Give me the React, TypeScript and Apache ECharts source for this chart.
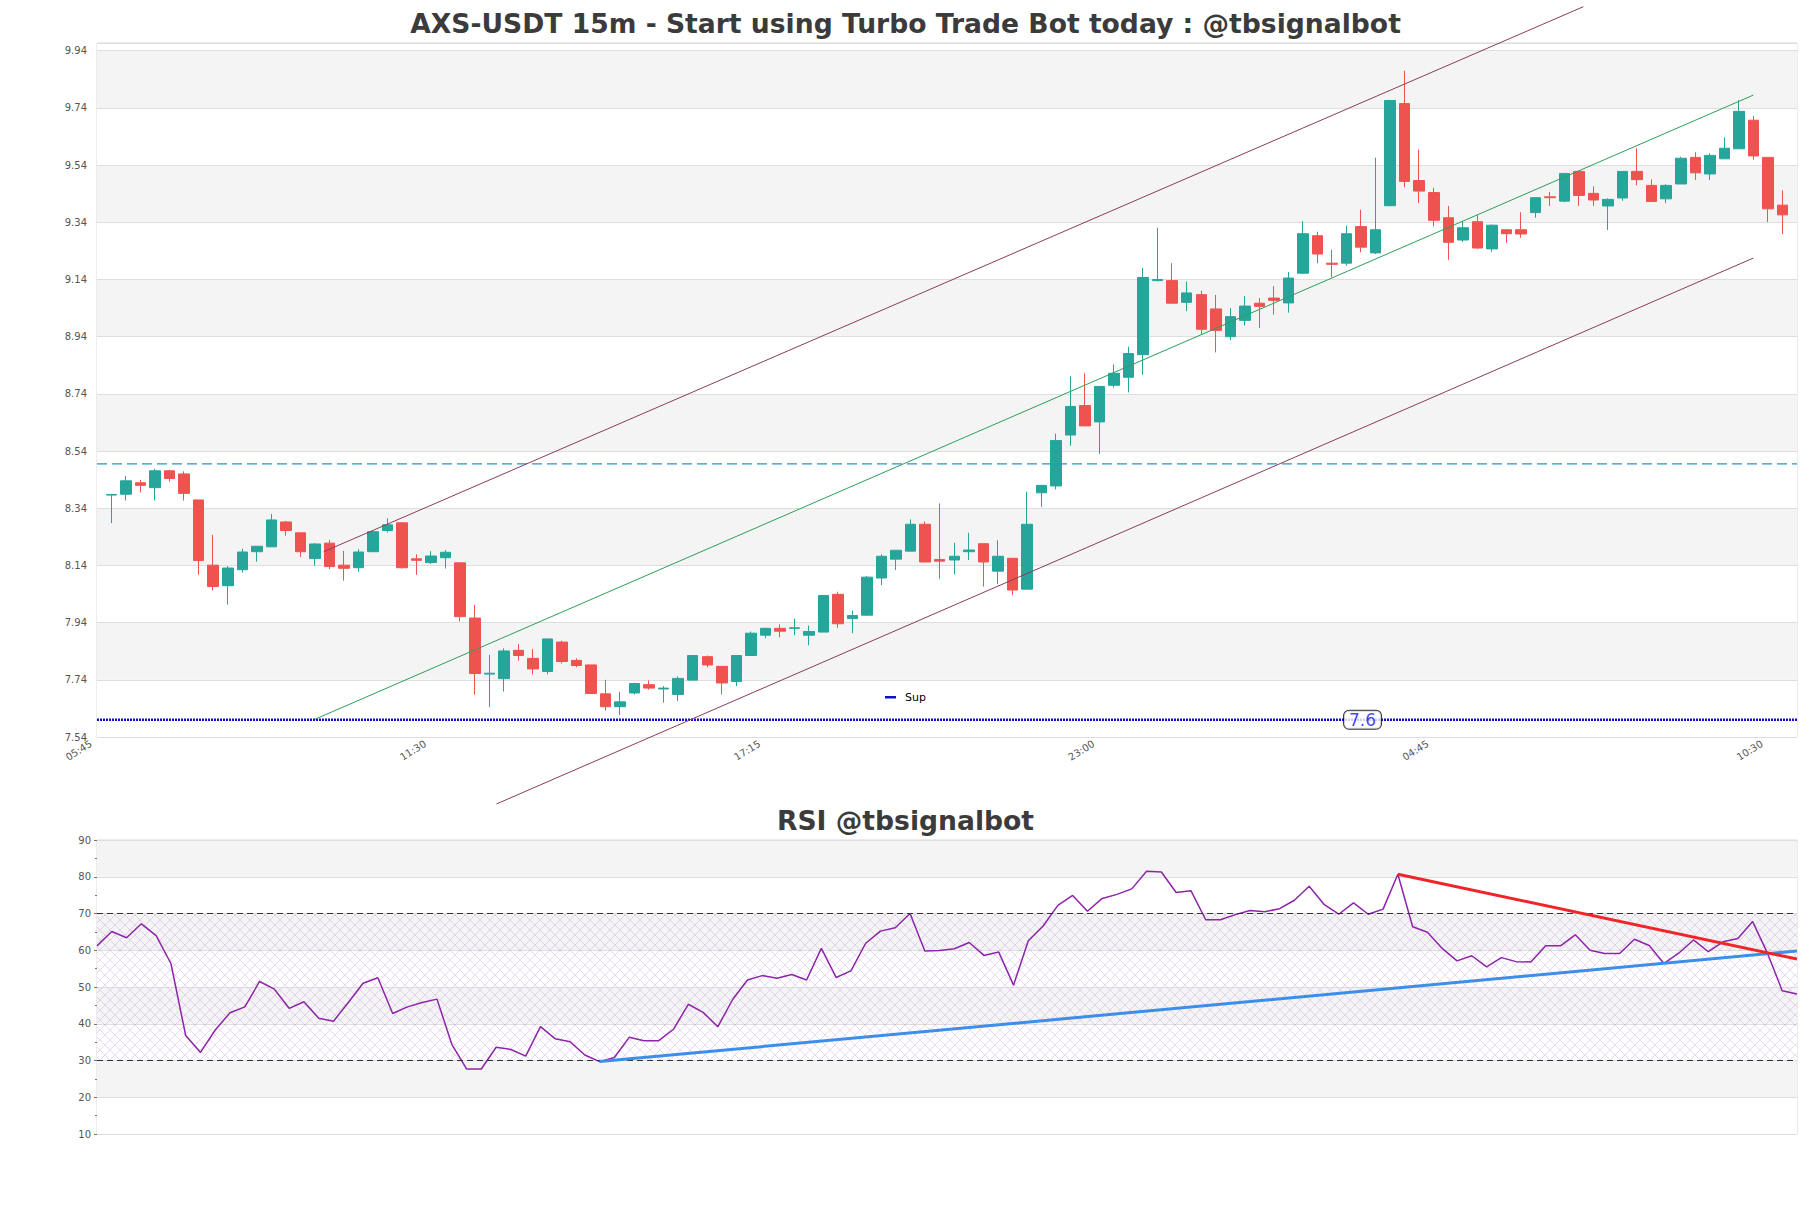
import React, { useEffect, useRef } from "react";
import * as echarts from "echarts";

// ---- Price candles (15m), one per period starting 06:00 ----
const opens = [
  8.386, 8.389, 8.429, 8.412, 8.471, 8.460, 8.369, 8.141, 8.069, 8.125,
  8.188, 8.205, 8.292, 8.254, 8.164, 8.218, 8.141, 8.132, 8.188, 8.262,
  8.289, 8.163, 8.150, 8.167, 8.149, 7.956, 7.760, 7.744, 7.843, 7.815,
  7.769, 7.872, 7.808, 7.792, 7.691, 7.646, 7.694, 7.723, 7.708, 7.689,
  7.739, 7.821, 7.787, 7.734, 7.825, 7.896, 7.920, 7.920, 7.896, 7.907,
  8.039, 7.954, 7.966, 8.096, 8.162, 8.190, 8.284, 8.161, 8.159, 8.188,
  8.216, 8.120, 8.165, 8.057, 8.394, 8.418, 8.596, 8.699, 8.642, 8.770,
  8.798, 8.877, 9.136, 9.136, 9.060, 9.087, 9.037, 8.940, 8.997, 9.057,
  9.075, 9.058, 9.162, 9.293, 9.197, 9.197, 9.325, 9.233, 9.398, 9.755,
  9.486, 9.444, 9.356, 9.278, 9.342, 9.247, 9.314, 9.314, 9.374, 9.429,
  9.414, 9.518, 9.441, 9.397, 9.425, 9.518, 9.469, 9.422, 9.474, 9.567,
  9.509, 9.562, 9.597, 9.697, 9.567, 9.400,
];
const closes = [
  8.388, 8.436, 8.420, 8.471, 8.444, 8.392, 8.157, 8.066, 8.131, 8.187,
  8.207, 8.299, 8.262, 8.188, 8.215, 8.136, 8.130, 8.187, 8.258, 8.282,
  8.132, 8.158, 8.173, 8.186, 7.961, 7.762, 7.763, 7.841, 7.825, 7.778,
  7.883, 7.804, 7.790, 7.692, 7.646, 7.663, 7.727, 7.711, 7.711, 7.745,
  7.825, 7.792, 7.729, 7.825, 7.903, 7.920, 7.910, 7.922, 7.909, 8.035,
  7.936, 7.965, 8.099, 8.172, 8.193, 8.284, 8.152, 8.155, 8.172, 8.194,
  8.152, 8.172, 8.054, 8.284, 8.420, 8.577, 8.696, 8.628, 8.766, 8.812,
  8.881, 9.147, 9.140, 9.057, 9.093, 8.966, 8.962, 9.010, 9.047, 9.046,
  9.067, 9.145, 9.300, 9.229, 9.193, 9.300, 9.253, 9.314, 9.766, 9.483,
  9.449, 9.347, 9.270, 9.321, 9.250, 9.330, 9.300, 9.299, 9.426, 9.426,
  9.511, 9.434, 9.418, 9.420, 9.518, 9.489, 9.413, 9.469, 9.564, 9.513,
  9.574, 9.599, 9.728, 9.572, 9.387, 9.366,
];
const lows = [
  8.288, 8.367, 8.395, 8.367, 8.433, 8.367, 8.108, 8.052, 8.003, 8.115,
  8.153, 8.205, 8.244, 8.169, 8.139, 8.127, 8.087, 8.118, 8.188, 8.255,
  8.129, 8.107, 8.145, 8.129, 7.944, 7.688, 7.644, 7.699, 7.807, 7.759,
  7.759, 7.797, 7.784, 7.692, 7.632, 7.617, 7.689, 7.705, 7.660, 7.666,
  7.739, 7.784, 7.689, 7.718, 7.825, 7.885, 7.889, 7.896, 7.861, 7.907,
  7.922, 7.903, 7.963, 8.071, 8.124, 8.190, 8.152, 8.093, 8.109, 8.159,
  8.066, 8.074, 8.036, 8.057, 8.344, 8.406, 8.558, 8.628, 8.530, 8.762,
  8.745, 8.807, 9.133, 9.057, 9.029, 8.947, 8.885, 8.928, 8.979, 8.970,
  9.017, 9.024, 9.159, 9.197, 9.147, 9.188, 9.235, 9.229, 9.396, 9.462,
  9.407, 9.326, 9.209, 9.271, 9.247, 9.237, 9.268, 9.286, 9.356, 9.397,
  9.410, 9.397, 9.397, 9.313, 9.415, 9.469, 9.411, 9.407, 9.474, 9.488,
  9.488, 9.562, 9.597, 9.559, 9.341, 9.299,
];
const highs = [
  8.390, 8.453, 8.439, 8.478, 8.474, 8.469, 8.369, 8.247, 8.138, 8.198,
  8.207, 8.320, 8.296, 8.254, 8.218, 8.229, 8.191, 8.197, 8.264, 8.305,
  8.289, 8.179, 8.190, 8.194, 8.149, 8.002, 7.827, 7.850, 7.865, 7.847,
  7.883, 7.877, 7.815, 7.792, 7.740, 7.698, 7.730, 7.738, 7.718, 7.752,
  7.825, 7.825, 7.787, 7.825, 7.909, 7.922, 7.934, 7.954, 7.930, 8.035,
  8.048, 7.982, 8.103, 8.179, 8.193, 8.301, 8.294, 8.357, 8.219, 8.254,
  8.216, 8.228, 8.165, 8.398, 8.420, 8.601, 8.801, 8.812, 8.768, 8.843,
  8.905, 9.180, 9.321, 9.197, 9.133, 9.101, 9.086, 9.040, 9.082, 9.075,
  9.117, 9.166, 9.344, 9.307, 9.244, 9.328, 9.384, 9.566, 9.766, 9.870,
  9.594, 9.461, 9.397, 9.345, 9.365, 9.332, 9.314, 9.375, 9.426, 9.446,
  9.511, 9.518, 9.466, 9.424, 9.518, 9.599, 9.490, 9.473, 9.569, 9.585,
  9.581, 9.637, 9.767, 9.712, 9.567, 9.452,
];

// ---- RSI, one value per candle ----
const rsiValues = [
  61.2, 65.1, 63.4, 67.2, 64.0, 56.4, 36.8, 32.2, 38.3, 43.0,
  44.6, 51.5, 49.4, 44.2, 46.0, 41.5, 40.7, 45.8, 51.0, 52.5,
  42.8, 44.6, 45.8, 46.7, 34.4, 27.7, 27.7, 33.6, 33.0, 31.2,
  39.2, 35.9, 35.1, 31.5, 29.7, 30.8, 36.3, 35.4, 35.4, 38.5,
  45.3, 43.1, 39.2, 46.6, 51.9, 53.1, 52.4, 53.4, 51.9, 60.5,
  52.6, 54.4, 61.9, 65.2, 66.1, 70.0, 59.8, 59.9, 60.4, 62.1,
  58.6, 59.5, 50.5, 62.6, 66.6, 72.2, 74.9, 70.6, 74.1, 75.2,
  76.7, 81.5, 81.3, 75.7, 76.2, 68.3, 68.3, 69.7, 70.8, 70.5,
  71.3, 73.6, 77.4, 72.5, 69.8, 72.9, 69.8, 71.2, 80.7, 66.4,
  64.9, 60.5, 57.1, 58.5, 55.5, 58.0, 56.9, 56.8, 61.2, 61.2,
  64.2, 60.0, 59.1, 59.1, 63.0, 61.3, 56.4, 59.2, 62.8, 59.6,
  62.3, 63.2, 67.8, 59.2, 49.0, 48.1,
];

// ---- Levels and trend lines (x in candle index units) ----
const supportLevel = 7.6;
const supportLabelAt = 86.1;
const resistanceLevel = 8.495;
const upperChannel = [[14.6, 8.188], [101.3, 10.094]];
const midChannel = [[14, 7.602], [113, 9.785]];
const lowerChannel = [[26.5, 7.306], [113, 9.215]];
const rsiSupportLine = [[34, 29.7], [115, 59.8]];
const rsiResistLine = [[88, 80.7], [115, 57.6]];
const rsiBands = [30, 70];

// ---- Axis settings ----
const startTime = "05:45";
const stepMinutes = 15;
const xLabelEvery = 23;
const priceMin = 7.54;
const priceMax = 9.967;
const priceStep = 0.2;
const rsiMin = 10;
const rsiMax = 90;
const rsiStep = 10;

const FONT = "DejaVu Sans";

function buildTimes(count: number): string[] {
  const [h0, m0] = startTime.split(":").map(Number);
  const base = h0 * 60 + m0;
  const out: string[] = [];
  for (let k = 0; k < count; k++) {
    const t = (base + k * stepMinutes) % 1440;
    const h = Math.floor(t / 60);
    const m = t % 60;
    out.push(String(h).padStart(2, "0") + ":" + String(m).padStart(2, "0"));
  }
  return out;
}

function makeHatch(): any {
  const c = document.createElement("canvas");
  c.width = 10;
  c.height = 10;
  const ctx = c.getContext("2d");
  if (ctx) {
    ctx.strokeStyle = "rgba(170, 120, 200, 0.35)";
    ctx.lineWidth = 0.8;
    ctx.beginPath();
    ctx.moveTo(0, 0);
    ctx.lineTo(10, 10);
    ctx.moveTo(10, 0);
    ctx.lineTo(0, 10);
    ctx.stroke();
  }
  return { image: c.toDataURL(), repeat: "repeat", imageWidth: 10, imageHeight: 10 };
}

export default function App() {
  const ref = useRef<HTMLDivElement>(null);

  useEffect(() => {
    if (!ref.current) return;
    const chart = echarts.init(ref.current, undefined, { renderer: "svg" });

    const n = opens.length;
    const times = buildTimes(n + 2);
    const candleData = opens.map((o, i) => [i + 1, o, closes[i], lows[i], highs[i]]);
    const rsiData = rsiValues.map((v, i) => [i, v]);
    const xMinIdx = -1;
    const xMaxIdx = n;

    const option: any = {
      animation: false,
      backgroundColor: "#ffffff",
      textStyle: { fontFamily: FONT },
      title: [
        {
          text: "AXS-USDT 15m - Start using Turbo Trade Bot today : @tbsignalbot",
          left: "center",
          top: 3,
          textStyle: { fontFamily: FONT, fontSize: 26.6, fontWeight: "bold", color: "#3b3b3b", lineHeight: 30 },
        },
        {
          text: "RSI @tbsignalbot",
          left: "center",
          top: 800,
          textStyle: { fontFamily: FONT, fontSize: 26.6, fontWeight: "bold", color: "#3b3b3b", lineHeight: 30 },
        },
      ],
      grid: [
        { left: 97, top: 43, width: 1700, height: 694, show: true, borderColor: "#d9d9d9", borderWidth: 1, backgroundColor: "transparent" },
        { left: 97, top: 840, width: 1700, height: 294, show: true, borderColor: "#d9d9d9", borderWidth: 1, backgroundColor: "transparent" },
      ],
      xAxis: [
        {
          type: "category",
          gridIndex: 0,
          data: times,
          boundaryGap: false,
          axisLine: { show: false },
          axisTick: { show: false },
          splitLine: { show: false },
          axisLabel: {
            interval: xLabelEvery - 1,
            rotate: 32,
            fontSize: 10,
            color: "#555",
            margin: 2,
            padding: [0, 7, 0, 0],
            fontFamily: FONT,
          },
        },
        { type: "value", gridIndex: 0, min: xMinIdx, max: xMaxIdx, show: false },
        { type: "value", gridIndex: 1, min: 0, max: n - 1, show: false },
      ],
      yAxis: [
        {
          type: "value",
          gridIndex: 0,
          min: priceMin,
          max: priceMax,
          interval: priceStep,
          axisLine: { show: false },
          axisTick: { show: false },
          axisLabel: {
            fontSize: 10,
            color: "#555",
            margin: 10,
            fontFamily: FONT,
            showMaxLabel: false,
            formatter: (v: number) => v.toFixed(2),
          },
          splitLine: { lineStyle: { color: "#dedede", width: 1 } },
          splitArea: { show: true, areaStyle: { color: ["#ffffff", "#f4f4f4"] } },
        },
        {
          type: "value",
          gridIndex: 1,
          min: rsiMin,
          max: rsiMax,
          interval: rsiStep,
          axisLine: { show: false },
          axisTick: { show: true, length: 3, lineStyle: { color: "#777" } },
          minorTick: { show: true, splitNumber: 2, length: 2, lineStyle: { color: "#777" } },
          axisLabel: { fontSize: 10, color: "#555", margin: 6, fontFamily: FONT },
          splitLine: { lineStyle: { color: "#dedede", width: 1 } },
          splitArea: { show: true, areaStyle: { color: ["#ffffff", "#f4f4f4"] } },
        },
      ],
      series: [
        {
          name: "Price",
          type: "candlestick",
          xAxisIndex: 0,
          yAxisIndex: 0,
          data: candleData,
          encode: { x: 0, y: [1, 2, 3, 4] },
          barWidth: 11,
          z: 3,
          itemStyle: {
            color: "#26a69a",
            color0: "#ef5350",
            borderColor: "#26a69a",
            borderColor0: "#ef5350",
            borderWidth: 1,
          },
        },
        {
          name: "Resistance",
          type: "line",
          xAxisIndex: 1,
          yAxisIndex: 0,
          data: [[xMinIdx, resistanceLevel], [xMaxIdx, resistanceLevel]],
          symbol: "none",
          silent: true,
          z: 4,
          lineStyle: { color: "#1f97d4", width: 1.3, type: [10, 5] },
        },
        {
          name: "Sup",
          type: "line",
          xAxisIndex: 1,
          yAxisIndex: 0,
          data: [[xMinIdx, supportLevel], [xMaxIdx, supportLevel]],
          symbol: "none",
          silent: true,
          z: 4,
          lineStyle: { color: "#1010c8", width: 2.5, type: [2, 1] },
        },
        {
          name: "SupLabel",
          type: "scatter",
          xAxisIndex: 1,
          yAxisIndex: 0,
          data: [[supportLabelAt, supportLevel]],
          symbolSize: 0,
          silent: true,
          z: 6,
          label: {
            show: true,
            position: "inside",
            formatter: String(supportLevel),
            color: "#1515e0",
            fontSize: 17,
            fontFamily: FONT,
            backgroundColor: "#ffffff",
            borderColor: "#000000",
            borderWidth: 1,
            borderRadius: 5,
            padding: [1, 5, 0, 5],
          },
        },
        {
          name: "Upper channel",
          type: "line",
          xAxisIndex: 1,
          yAxisIndex: 0,
          data: upperChannel,
          symbol: "none",
          clip: false,
          silent: true,
          z: 5,
          lineStyle: { color: "#8a3d5c", width: 1 },
        },
        {
          name: "Mid channel",
          type: "line",
          xAxisIndex: 1,
          yAxisIndex: 0,
          data: midChannel,
          symbol: "none",
          clip: false,
          silent: true,
          z: 5,
          lineStyle: { color: "#2f9e5a", width: 1 },
        },
        {
          name: "Lower channel",
          type: "line",
          xAxisIndex: 1,
          yAxisIndex: 0,
          data: lowerChannel,
          symbol: "none",
          clip: false,
          silent: true,
          z: 5,
          lineStyle: { color: "#8a3d5c", width: 1 },
        },
        {
          name: "RSI",
          type: "line",
          xAxisIndex: 2,
          yAxisIndex: 1,
          data: rsiData,
          symbol: "none",
          z: 4,
          lineStyle: { color: "#8e24aa", width: 1.5 },
          markLine: {
            silent: true,
            symbol: ["none", "none"],
            label: { show: false },
            lineStyle: { color: "#333333", width: 1.2, type: [6, 4] },
            data: rsiBands.map((v) => ({ yAxis: v })),
          },
          markArea: {
            silent: true,
            itemStyle: { color: makeHatch() },
            data: [[{ yAxis: rsiBands[0] }, { yAxis: rsiBands[1] }]],
          },
        },
        {
          name: "RSI support",
          type: "line",
          xAxisIndex: 2,
          yAxisIndex: 1,
          data: rsiSupportLine,
          symbol: "none",
          silent: true,
          z: 5,
          lineStyle: { color: "#3d8ee8", width: 3 },
        },
        {
          name: "RSI resistance",
          type: "line",
          xAxisIndex: 2,
          yAxisIndex: 1,
          data: rsiResistLine,
          symbol: "none",
          silent: true,
          z: 5,
          lineStyle: { color: "#f0252a", width: 3 },
        },
      ],
      graphic: {
        elements: [
          {
            type: "rect",
            x: 885,
            y: 696,
            z: 100,
            shape: { x: 0, y: 0, width: 11, height: 2.5 },
            style: { fill: "#1010c8" },
            silent: true,
          },
          {
            type: "text",
            x: 905,
            y: 697.5,
            z: 100,
            style: { text: "Sup", fontSize: 11, fontFamily: FONT, fill: "#000", verticalAlign: "middle", align: "left" },
            silent: true,
          },
        ],
      },
    };

    chart.setOption(option);
    return () => chart.dispose();
  }, []);

  return (
    <div
      ref={ref}
      style={{ position: "absolute", left: 0, top: 0, width: 1811, height: 1208, background: "#fff" }}
    />
  );
}
